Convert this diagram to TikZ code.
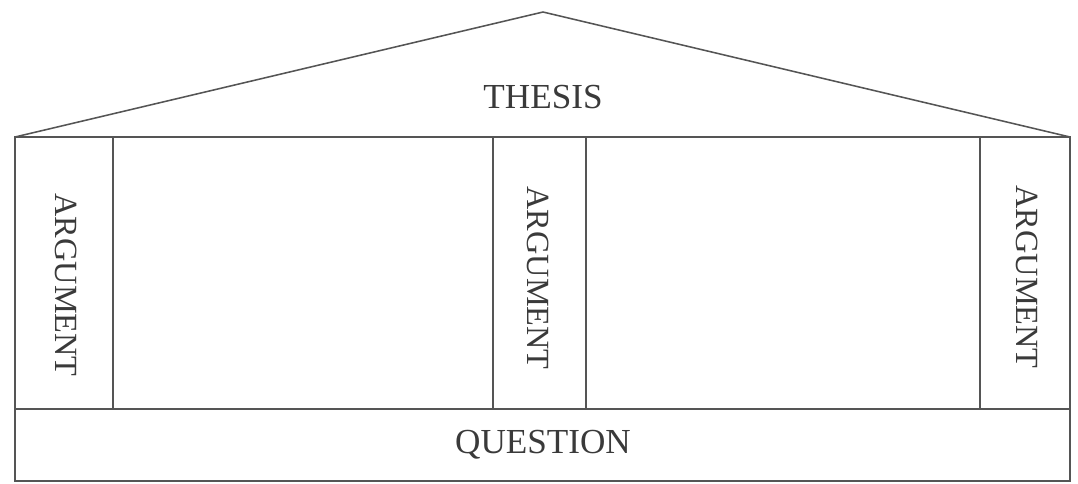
\documentclass[tikz,border=0pt]{standalone}
\usepackage{fontspec}
\setmainfont{Liberation Serif}
\definecolor{inkgray}{HTML}{555555}
\definecolor{textgray}{HTML}{3A3A3A}
\begin{document}
\begin{tikzpicture}[x=0.025cm, y=-0.025cm,
    wall/.style={draw=inkgray, line width=1.1pt, line join=miter},
    label/.style={text=textgray, font=\fontsize{25}{28}\selectfont, inner sep=0pt},
    pillar/.style={label, rotate=-90, font=\fontsize{23}{26}\selectfont}]
    \useasboundingbox (0,0) rectangle (1078,483);

    % Corners
    \coordinate (Apex) at (543,12);
    \coordinate (EaveL) at (15,137);
    \coordinate (EaveR) at (1070,137);
    \coordinate (BaseL) at (15,481);
    \coordinate (BaseR) at (1070,481);
    \coordinate (FloorL) at (15,409);
    \coordinate (FloorR) at (1070,409);

    % Roof and walls
    \draw[wall] (EaveL) -- (Apex) -- (EaveR);
    \draw[wall] (EaveL) rectangle (BaseR);
    \draw[wall] (FloorL) -- (FloorR);

    % Pillars
    \draw[wall] (113,137) -- (113,409);
    \draw[wall] (493,137) -- (493,409);
    \draw[wall] (586,137) -- (586,409);
    \draw[wall] (980,137) -- (980,409);

    % Labels
    \node[label] (Thesis) at (543,97) {THESIS};
    \node[label] (Question) at (543,445) {QUESTION};
    \node[pillar] (ArgLeft) at (66,285) {ARGUMENT};
    \node[pillar] (ArgMid) at (538,278) {ARGUMENT};
    \node[pillar] (ArgRight) at (1027,277) {ARGUMENT};
\end{tikzpicture}
\end{document}
